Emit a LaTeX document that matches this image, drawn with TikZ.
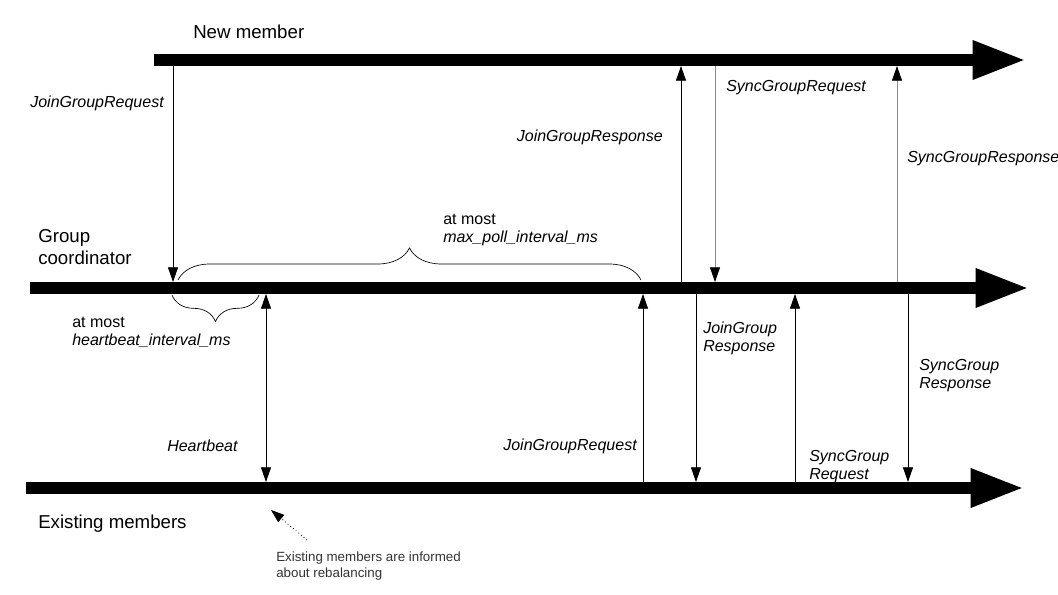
\documentclass[tikz,border=0pt]{standalone}
\usepackage{fontspec}
\setmainfont{Liberation Sans}
\usetikzlibrary{arrows.meta,decorations.pathreplacing}

\tikzset{
  timeline/.style={line width=9pt, -{Triangle[length=40pt,width=27pt]}},
  msg/.style={line width=0.6pt, -{Triangle[length=11pt,width=7.5pt]}},
  greymsg/.style={line width=0.6pt, draw=black!45, -{Triangle[length=11pt,width=7.5pt,color=black]}},
  lane/.style={font=\fontsize{14}{16}\selectfont, inner sep=0pt, align=left},
  msglabel/.style={font=\fontsize{12}{13.5}\selectfont\itshape, inner sep=0pt, align=left},
  waitlabel/.style={font=\fontsize{12}{13.5}\selectfont, inner sep=0pt, align=left},
  bracket/.style={decorate, line width=0.5pt, decoration={brace, amplitude=#1}},
  hint/.style={font=\fontsize{10}{12}\selectfont, text=black!80, inner sep=0pt, align=left}
}

\begin{document}
\begin{tikzpicture}[x=0.75pt,y=-0.75pt]
        \useasboundingbox (0,0) rectangle (1058,595);

        % Defining the three time lines
        \coordinate (newStart) at (154,60);
        \coordinate (newEnd) at (1026,60);
        \coordinate (coordStart) at (30,288);
        \coordinate (coordEnd) at (1029,288);
        \coordinate (existStart) at (26,488);
        \coordinate (existEnd) at (1024,488);
        \draw[timeline] (newStart) -- (newEnd);
        \draw[timeline] (coordStart) -- (coordEnd);
        \draw[timeline] (existStart) -- (existEnd);

        \node[lane, anchor=west] (newMember) at (193,32) {New member};
        \node[lane, anchor=west] (groupCoord) at (38,247) {Group\\coordinator};
        \node[lane, anchor=west] (existMembers) at (38,524) {Existing members};

        % Points where the messages meet the lines
        \coordinate (nJoinReq) at (173,66);
        \coordinate (cJoinReq) at (173,282);
        \coordinate (nJoinResp) at (681,66);
        \coordinate (cJoinResp) at (681,282);
        \coordinate (nSyncReq) at (715,66);
        \coordinate (cSyncReq) at (715,282);
        \coordinate (nSyncResp) at (897,66);
        \coordinate (cSyncResp) at (897,282);

        \coordinate (cBeat) at (266,294);
        \coordinate (eBeat) at (266,482);
        \coordinate (cJoinReqE) at (643,294);
        \coordinate (eJoinReq) at (643,482);
        \coordinate (cJoinRespE) at (696,294);
        \coordinate (eJoinResp) at (696,482);
        \coordinate (cSyncReqE) at (795,294);
        \coordinate (eSyncReq) at (795,482);
        \coordinate (cSyncRespE) at (908,294);
        \coordinate (eSyncResp) at (908,482);

        % New member and coordinator
        \draw[msg] (nJoinReq) -- (cJoinReq);
        \draw[msg] (cJoinResp) -- (nJoinResp);
        \draw[greymsg] (nSyncReq) -- (cSyncReq);
        \draw[greymsg] (cSyncResp) -- (nSyncResp);

        \node[msglabel, anchor=east] (joinReqLabel) at (164,103) {JoinGroupRequest};
        \node[msglabel, anchor=east] (joinRespLabel) at (663,137) {JoinGroupResponse};
        \node[msglabel, anchor=west] (syncReqLabel) at (726,88) {SyncGroupRequest};
        \node[msglabel, anchor=west] (syncRespLabel) at (907,159) {SyncGroupResponse};

        % Existing members and coordinator
        \draw[line width=0.6pt, {Triangle[length=11pt,width=7.5pt]}-{Triangle[length=11pt,width=7.5pt]}] (cBeat) -- (eBeat);
        \draw[msg] (eJoinReq) -- (cJoinReqE);
        \draw[msg] (cJoinRespE) -- (eJoinResp);
        \draw[msg] (eSyncReq) -- (cSyncReqE);
        \draw[msg] (cSyncRespE) -- (eSyncResp);

        \node[msglabel, anchor=west] (beatLabel) at (167,446) {Heartbeat};
        \node[msglabel, anchor=east] (joinReqLabelE) at (637,446) {JoinGroupRequest};
        \node[msglabel, anchor=west] (joinRespLabelE) at (703,338) {JoinGroup\\Response};
        \node[msglabel, anchor=west] (syncReqLabelE) at (809,467) {SyncGroup\\Request};
        \node[msglabel, anchor=west] (syncRespLabelE) at (919,376) {SyncGroup\\Response};

        % Time limits
        \coordinate (pollStart) at (178,280);
        \coordinate (pollEnd) at (641,280);
        \draw[bracket=24pt] (pollStart) -- (pollEnd);
        \node[waitlabel, anchor=west] (pollLabel) at (443,230) {at most\\\textit{max\_poll\_interval\_ms}};

        \coordinate (beatStart) at (259,295);
        \coordinate (beatEnd) at (172,295);
        \draw[bracket=20pt] (beatStart) -- (beatEnd);
        \node[waitlabel, anchor=west] (beatWait) at (72,332) {at most\\\textit{heartbeat\_interval\_ms}};

        % Notes
        \node[hint, anchor=west] (rebalanceNote) at (276,566) {Existing members are informed\\about rebalancing};
        \coordinate (noteTail) at (307,540);
        \coordinate (noteTip) at (271,510);
        \draw[dotted, line width=0.6pt, -{Triangle[length=10pt,width=7pt]}] (noteTail) -- (noteTip);

\end{tikzpicture}
\end{document}
